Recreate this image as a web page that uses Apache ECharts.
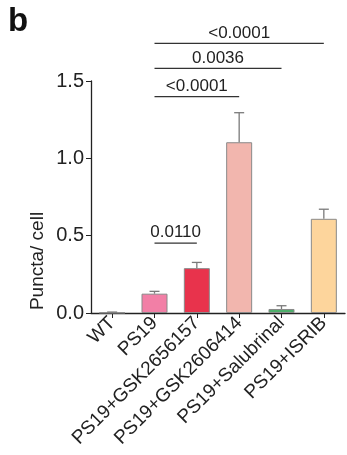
<!DOCTYPE html>
<html>
<head>
<meta charset="utf-8">
<script src="https://cdn.jsdelivr.net/npm/echarts@6/dist/echarts.min.js"></script>
<style>
  html, body { margin: 0; padding: 0; background: #fff; }
  #chart { width: 347px; height: 455px; }
</style>
</head>
<body>
<div id="chart"></div>
<script>
const groups = ['WT', 'PS19', 'PS19+GSK2656157', 'PS19+GSK2606414', 'PS19+Salubrinal', 'PS19+ISRIB']
const means = [0.002, 0.125, 0.29, 1.104, 0.026, 0.609]
const errTops = [0.006, 0.14, 0.327, 1.295, 0.047, 0.671]
const barColors = ['#ffffff', '#F27FA6', '#E8334C', '#F2B6AE', '#4DAE6A', '#FDD59C']
const yTicks = ['0.0', '0.5', '1.0', '1.5']

// significance brackets: from group, to group, height, p value
const sigFrom = [1, 1, 1, 1]
const sigTo = [2, 3, 4, 5]
const sigLevel = [0.452, 1.399, 1.582, 1.743]
const sigText = ['0.0110', '<0.0001', '0.0036', '<0.0001']

const font = 'Liberation Sans, Arial, sans-serif'

const chart = echarts.init(document.getElementById('chart'), null, {renderer: 'canvas'})

const option = {
  animation: false,
  grid: {left: 91, right: 2, top: 81, bottom: 142},
  xAxis: {
    type: 'category',
    data: groups,
    axisLine: {lineStyle: {color: '#222', width: 1.3}},
    axisTick: {show: true, alignWithLabel: true, length: 5, lineStyle: {color: '#222'}},
    axisLabel: {rotate: 45, fontFamily: font, fontSize: 19, color: '#222', margin: 7, interval: 0},
  },
  yAxis: {
    type: 'value',
    min: 0,
    max: 1.5,
    interval: 0.5,
    splitLine: {show: false},
    axisLine: {show: true, lineStyle: {color: '#222', width: 1.3}},
    axisTick: {show: true, length: 5, lineStyle: {color: '#222'}},
    axisLabel: {
      fontFamily: font, fontSize: 20, color: '#222', margin: 7,
      formatter: (v) => yTicks[Math.round(v / 0.5)],
    },
  },
  graphic: [
    {
      type: 'text', left: 8, top: 5,
      style: {text: 'b', font: 'bold 33px ' + font, fill: '#111'},
    },
    {
      type: 'text', x: 38, y: 261, rotation: Math.PI / 2,
      style: {text: 'Puncta/ cell', font: '19px ' + font, fill: '#222', align: 'center', verticalAlign: 'middle'},
    },
  ],
  series: [
    {
      type: 'bar',
      barWidth: 26,
      data: means.map((v, i) => ({
        value: v,
        itemStyle: {color: barColors[i], borderColor: '#8a8a8a', borderWidth: 1},
      })),
      z: 2,
    },
    {
      type: 'custom',
      z: 3,
      data: means.map((v, i) => [i, v, errTops[i]]),
      renderItem: (params, api) => {
        const base = api.coord([api.value(0), api.value(1)])
        const top = api.coord([api.value(0), api.value(2)])
        const half = 5
        const st = {stroke: '#7a7a7a', lineWidth: 1.3}
        return {
          type: 'group',
          children: [
            {type: 'line', shape: {x1: base[0], y1: base[1], x2: top[0], y2: top[1]}, style: st},
            {type: 'line', shape: {x1: top[0] - half, y1: top[1], x2: top[0] + half, y2: top[1]}, style: st},
          ],
        }
      },
    },
    {
      type: 'custom',
      z: 4,
      clip: false,
      data: sigFrom.map((f, i) => [f, sigTo[i], sigLevel[i], sigText[i]]),
      renderItem: (params, api) => {
        const a = api.coord([api.value(0), api.value(2)])
        const b = api.coord([api.value(1), api.value(2)])
        const label = sigText[params.dataIndex]
        return {
          type: 'group',
          children: [
            {type: 'line', shape: {x1: a[0], y1: a[1], x2: b[0], y2: b[1]}, style: {stroke: '#333', lineWidth: 1.2}},
            {
              type: 'text',
              x: (a[0] + b[0]) / 2, y: a[1] - 2,
              style: {text: label, font: '17px ' + font, fill: '#222', align: 'center', verticalAlign: 'bottom'},
            },
          ],
        }
      },
    },
  ],
}

chart.setOption(option)
</script>
</body>
</html>
